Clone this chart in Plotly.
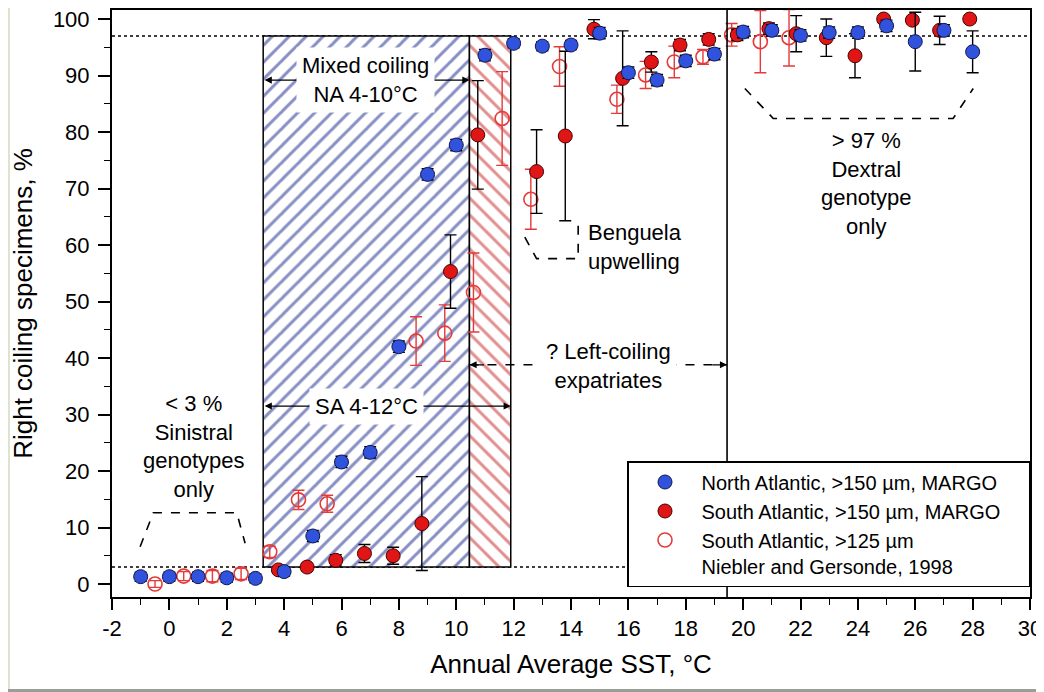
import plotly.graph_objects as go

# ---------------- data ----------------
na_x = [-1, 0, 1, 2, 3, 4, 5, 6, 7, 8, 9, 10, 11, 12, 13, 14, 15, 16, 17, 18, 19, 20, 21, 22, 23, 24, 25, 26, 27, 28]
na_y = [1.3, 1.3, 1.3, 1.1, 1.0, 2.2, 8.5, 21.6, 23.3, 42.0, 72.5, 77.7, 93.6, 95.7, 95.2, 95.4, 97.5, 90.5, 89.2, 92.6,
        93.8, 97.7, 98.0, 97.1, 97.6, 97.6, 98.8, 96.0, 98.0, 94.2]
na_err = [0.8, 0.8, 0.8, 0.8, 0.8, 0.8, 1.0, 1.0, 1.0, 1.0, 1.0, 1.0, 1.0, 0.8, 0.8, 0.8, 1.0, 1.0, 1.0, 1.0,
          1.0, 1.0, 1.0, 1.0, 1.0, 1.0, 1.0, 5.2, 1.0, 3.7]

sa_x = [3.8, 4.8, 5.8, 6.8, 7.8, 8.8, 9.8, 10.75, 12.8, 13.8, 14.8, 15.8, 16.8, 17.8, 18.8, 19.8, 20.9, 21.85, 22.9,
        23.9, 24.9, 25.9, 26.85, 27.9]
sa_y = [2.5, 3.0, 4.2, 5.4, 5.0, 10.7, 55.3, 79.5, 73.0, 79.3, 98.2, 89.5, 92.4, 95.4, 96.4, 97.2, 98.3, 97.4, 96.7,
        93.5, 100.0, 99.8, 98.0, 100.0]
sa_err = [0.6, 0.6, 1.0, 1.6, 1.5, 8.3, 6.5, 9.6, 7.4, 15.0, 1.7, 8.4, 1.8, 1.0, 1.0, 1.0, 1.0, 3.2, 3.3,
          3.9, 0.6, 0.6, 2.5, 0.6]

ng_x = [-0.5, 0.5, 1.5, 2.5, 3.5, 4.5, 5.5, 8.6, 9.6, 10.6, 11.6, 12.6, 13.6, 15.6, 16.6, 17.6, 18.6, 19.6, 20.6, 21.6]
ng_y = [0.0, 1.4, 1.4, 1.8, 5.7, 14.9, 14.2, 43.0, 44.4, 51.6, 82.4, 68.1, 91.6, 85.8, 90.1, 92.4, 93.3, 97.2, 96.0, 96.7]
ng_err = [0.6, 0.8, 1.0, 1.0, 1.0, 1.7, 1.5, 4.3, 5.0, 7.0, 8.3, 5.3, 3.5, 2.5, 2.4, 2.8, 1.3, 2.0, 5.5, 5.0]

# zones (°C) and thresholds (%)
mixed_na = [3.27, 10.46]
mixed_sa_end = 11.9
expat_end = 19.44
lo_thr, hi_thr = 3, 97

x_ticks = [-2, 0, 2, 4, 6, 8, 10, 12, 14, 16, 18, 20, 22, 24, 26, 28, 30]
x_ticktext = ["-2", "0", "2", "4", "6", "8", "10", "12", "14", "16", "18", "20", "22", "24", "26", "28", "30"]

legend_names = ["North Atlantic, >150 µm, MARGO",
                "South Atlantic, >150 µm, MARGO\u00a0\u00a0\u00a0\u00a0",
                "South Atlantic, >125 µm<br>Niebler and Gersonde, 1998"]

FONT = "Liberation Sans, Arial, sans-serif"
BLUE = "#3152dc"
RED = "#e01616"
OPENRED = "#e43a3a"

# page is rendered with an 8 px body margin: plot area kept at page px x 112-1030, y 10-597
PAGE_OFF = 8
W, H = 1044 - PAGE_OFF, 692 - PAGE_OFF
PLOT_TOP = 10

fig = go.Figure()

# hatched zones
fig.add_trace(go.Bar(
    x=[(mixed_na[0] + mixed_na[1]) / 2], width=[mixed_na[1] - mixed_na[0]],
    y=[hi_thr - lo_thr], base=[lo_thr],
    marker=dict(color="white", line=dict(color="black", width=1.5),
                pattern=dict(shape="/", fgcolor="#0f1e88", bgcolor="white", size=12, solidity=0.25)),
    showlegend=False, hoverinfo="skip"))
fig.add_trace(go.Bar(
    x=[(mixed_na[1] + mixed_sa_end) / 2], width=[mixed_sa_end - mixed_na[1]],
    y=[hi_thr - lo_thr], base=[lo_thr],
    marker=dict(color="white", line=dict(color="black", width=1.5),
                pattern=dict(shape="\\", fgcolor="#c41e1e", bgcolor="white", size=12, solidity=0.25)),
    showlegend=False, hoverinfo="skip"))

# data series
fig.add_trace(go.Scatter(
    x=ng_x, y=ng_y, mode="markers",
    error_y=dict(type="data", array=ng_err, color=OPENRED, thickness=1.4, width=6),
    marker=dict(symbol="circle-open", size=14, color=OPENRED, line=dict(width=1.6)),
    showlegend=False))
fig.add_trace(go.Scatter(
    x=sa_x, y=sa_y, mode="markers",
    error_y=dict(type="data", array=sa_err, color="black", thickness=1.4, width=6),
    marker=dict(symbol="circle", size=14, color=RED, line=dict(color="#4a0000", width=1)),
    showlegend=False))
fig.add_trace(go.Scatter(
    x=na_x, y=na_y, mode="markers",
    error_y=dict(type="data", array=na_err, color="black", thickness=1.4, width=6),
    marker=dict(symbol="circle", size=14, color=BLUE, line=dict(color="#101850", width=1)),
    showlegend=False))

# legend entries
fig.add_trace(go.Scatter(x=[None], y=[None], mode="markers", name=legend_names[0],
                         marker=dict(symbol="circle", size=14, color=BLUE, line=dict(color="#101850", width=1))))
fig.add_trace(go.Scatter(x=[None], y=[None], mode="markers", name=legend_names[1],
                         marker=dict(symbol="circle", size=14, color=RED, line=dict(color="#4a0000", width=1))))
fig.add_trace(go.Scatter(x=[None], y=[None], mode="markers", name=legend_names[2],
                         marker=dict(symbol="circle-open", size=14, color=OPENRED, line=dict(width=1.6))))

# page px -> paper coords
def px2x(p):
    return (p - 112) / 918
def py2y(p):
    return (597 - p) / (597 - PLOT_TOP)

shapes = []
# threshold dotted lines
for yv in (lo_thr, hi_thr):
    shapes.append(dict(type="line", xref="paper", yref="y", x0=0, x1=1, y0=yv, y1=yv,
                       line=dict(color="black", width=1.6, dash="dot"), layer="below"))
# vertical boundary
shapes.append(dict(type="line", xref="x", yref="paper", x0=expat_end, x1=expat_end, y0=0, y1=1,
                   line=dict(color="black", width=1.6)))
# dashed brackets
brackets = [
    [(-1.02, 6.6), (-0.56, 12.6), (2.35, 12.6), (2.64, 7.2)],
    [(20.06, 87.7), (21.05, 82.4), (27.32, 82.4), (28.02, 87.7)],
    [(12.39, 61.4), (12.80, 57.6), (14.25, 57.6), (14.25, 64.7)],
]
for b in brackets:
    path = "M " + " L ".join(f"{px},{py}" for px, py in b)
    shapes.append(dict(type="path", xref="x", yref="y", path=path,
                       line=dict(color="black", width=1.6, dash="dash")))
# dashed expatriate arrow line
shapes.append(dict(type="line", xref="x", yref="y", x0=mixed_na[1], x1=expat_end, y0=38.8, y1=38.8,
                   line=dict(color="black", width=1.4, dash="dash")))
# page frame strips
shapes.append(dict(type="rect", xref="paper", yref="paper", x0=px2x(0), x1=px2x(10), y0=py2y(700), y1=py2y(0),
                   fillcolor="#dde3cf", line=dict(width=0)))
shapes.append(dict(type="rect", xref="paper", yref="paper", x0=px2x(0), x1=px2x(1050), y0=py2y(700), y1=py2y(689),
                   fillcolor="#9a9e96", line=dict(width=0)))

ann = []
AF = dict(family=FONT, size=22, color="black")
# double arrows (solid)
for y_arr, x_end in ((89.2, mixed_na[1]), (31.5, mixed_sa_end)):
    ann.append(dict(x=x_end, y=y_arr, ax=mixed_na[0], ay=y_arr, xref="x", yref="y", axref="x", ayref="y",
                    text="", showarrow=True, arrowhead=2, arrowside="end+start", arrowsize=1.1,
                    arrowwidth=1.3, arrowcolor="black", standoff=0, startstandoff=0))
# expatriate arrow heads
ann.append(dict(x=mixed_na[1], y=38.8, ax=16, ay=0, xref="x", yref="y", text="", showarrow=True,
                arrowhead=2, arrowsize=1.1, arrowwidth=1.3, arrowcolor="black", standoff=0))
ann.append(dict(x=expat_end, y=38.8, ax=-16, ay=0, xref="x", yref="y", text="", showarrow=True,
                arrowhead=2, arrowsize=1.1, arrowwidth=1.3, arrowcolor="black", standoff=0))

texts = [
    ("Mixed coiling<br>NA 4-10°C", 6.82, 89.2, "center", True),
    ("SA 4-12°C", 6.87, 31.5, "center", True),
    ("< 3 %<br>Sinistral<br>genotypes<br>only", 0.86, 24.3, "center", False),
    ("> 97 %<br>Dextral<br>genotype<br>only", 24.3, 70.9, "center", False),
    ("? Left-coiling<br>expatriates", 15.3, 38.6, "center", True),
]
for t, xx, yy, al, bg in texts:
    ann.append(dict(x=xx, y=yy, xref="x", yref="y", text=t, showarrow=False, font=AF, align=al,
                    bgcolor="white" if bg else None, borderpad=5))
ann.append(dict(x=14.54, y=59.6, xref="x", yref="y", text="Benguela<br>upwelling", showarrow=False,
                font=AF, align="left", xanchor="left"))

fig.update_layout(
    width=W, height=H,
    margin=dict(l=112 - PAGE_OFF, r=1044 - 1030, t=PLOT_TOP - PAGE_OFF, b=692 - 597, autoexpand=False),
    paper_bgcolor="white", plot_bgcolor="white",
    font=dict(family=FONT, size=21, color="black"),
    barmode="overlay",
    shapes=shapes, annotations=ann,
    legend=dict(x=1.0, y=py2y(587), xanchor="right", yanchor="bottom",
                bgcolor="white", bordercolor="black", borderwidth=1.5,
                font=dict(family=FONT, size=20), valign="top", itemwidth=63,
                tracegroupgap=0),
)
fig.update_xaxes(range=[-2, 30], tickmode="array", tickvals=x_ticks, ticktext=x_ticktext,
                 automargin=False, ticklabeloverflow="allow",
                 showline=True, linecolor="black", linewidth=2, mirror=True,
                 ticks="outside", ticklen=11, tickwidth=1.6, tickcolor="black",
                 minor=dict(ticks="outside", ticklen=6, dtick=1, tickwidth=1.4, tickcolor="black"),
                 showgrid=False, zeroline=False,
                 tickfont=dict(family=FONT, size=22),
                 title=dict(text="Annual Average SST, °C", font=dict(family=FONT, size=26), standoff=14))
fig.update_yaxes(range=[-2.3, 101.6], tickmode="linear", tick0=0, dtick=10,
                 automargin=False, ticklabeloverflow="allow",
                 showline=True, linecolor="black", linewidth=2, mirror=True,
                 ticks="outside", ticklen=12, tickwidth=1.6, tickcolor="black",
                 minor=dict(ticks="outside", ticklen=6, dtick=5, tickwidth=1.4, tickcolor="black"),
                 showgrid=False, zeroline=False, ticklabelstandoff=4,
                 tickfont=dict(family=FONT, size=22),
                 title=dict(text="Right coiling specimens, %", font=dict(family=FONT, size=26), standoff=24))

fig.write_html("out.html")
